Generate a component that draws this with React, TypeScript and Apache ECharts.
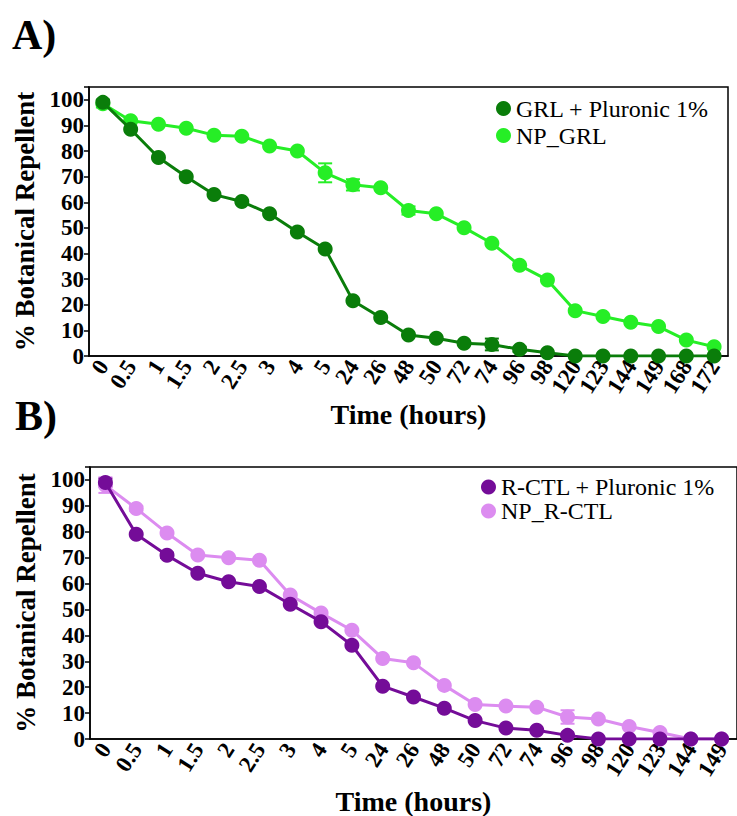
import React, { useEffect, useRef } from "react";
import * as echarts from "echarts";

const timeA = ["0", "0.5", "1", "1.5", "2", "2.5", "3", "4", "5", "24", "26", "48", "50", "72", "74", "96", "98", "120", "123", "144", "149", "168", "172"];
const grlPluronic = [99, 88.5, 77.5, 70, 63, 60.3, 55.5, 48.4, 41.8, 21.6, 15, 8.2, 6.9, 5, 4.5, 2.6, 1.3, 0, 0, 0, 0, 0, 0];
const grlPluronicErr = [1, 0, 0, 0, 0, 0, 0, 0, 0, 0, 0, 0, 0, 0, 2.3, 1, 0, 0, 0, 0, 0, 0, 0];
const npGrl = [98.5, 91.8, 90.5, 88.9, 86.2, 85.8, 82, 80, 71.5, 66.8, 65.7, 56.8, 55.5, 50.1, 44, 35.4, 29.7, 17.7, 15.4, 13.2, 11.5, 6.2, 3.6];
const npGrlErr = [1.5, 0, 0, 0, 0, 0, 0, 0, 3.7, 2.2, 0, 1.6, 0, 0, 0, 0, 0, 0, 0, 0, 0, 0, 0];

const timeB = ["0", "0.5", "1", "1.5", "2", "2.5", "3", "4", "5", "24", "26", "48", "50", "72", "74", "96", "98", "120", "123", "144", "149"];
const rctlPluronic = [99, 79, 70.9, 64, 60.7, 58.9, 52, 45.3, 36.2, 20.4, 16.2, 11.9, 7.1, 4.2, 3.4, 1.4, 0, 0, 0, 0, 0];
const rctlPluronicErr = [1.5, 0, 1, 0, 0, 0, 0, 0, 0, 0, 0, 0, 0, 0, 0, 0, 0, 0, 0, 0, 0];
const npRctl = [98, 89, 79.5, 71, 70, 69, 55.6, 48.6, 42, 31.1, 29.4, 20.7, 13.3, 12.7, 12.3, 8.5, 7.7, 4.8, 2.5, 0, 0];
const npRctlErr = [3, 1, 0, 0, 0, 0, 0, 0, 0, 0, 0, 0, 0, 0, 0, 2.6, 0, 0, 0, 0, 0];

const DARK_GREEN = "#0a7d0a";
const LIGHT_GREEN = "#26ee26";
const DARK_PURPLE = "#740c98";
const LIGHT_PURPLE = "#dc8cf0";
const SERIF = "Liberation Serif";

function errData(vals: number[], errs: number[]) {
  const out: number[][] = [];
  errs.forEach((e, i) => {
    if (e > 0) out.push([i, vals[i], e]);
  });
  return out;
}

function errSeries(name: string, vals: number[], errs: number[], color: string, gi: number) {
  return {
    type: "custom",
    name: name + "_err",
    xAxisIndex: gi,
    yAxisIndex: gi,
    silent: true,
    z: 1,
    data: errData(vals, errs),
    renderItem: (params: any, api: any) => {
      const i = api.value(0);
      const v = api.value(1);
      const e = api.value(2);
      const top = api.coord([i, v + e]);
      const bot = api.coord([i, Math.max(0, v - e)]);
      const hw = 7;
      const style = { stroke: color, lineWidth: 2 };
      return {
        type: "group",
        children: [
          { type: "line", shape: { x1: top[0], y1: top[1], x2: bot[0], y2: bot[1] }, style },
          { type: "line", shape: { x1: top[0] - hw, y1: top[1], x2: top[0] + hw, y2: top[1] }, style },
          { type: "line", shape: { x1: bot[0] - hw, y1: bot[1], x2: bot[0] + hw, y2: bot[1] }, style },
        ],
      };
    },
  };
}

function lineSeries(name: string, vals: number[], color: string, gi: number, z: number) {
  return {
    type: "line",
    name,
    xAxisIndex: gi,
    yAxisIndex: gi,
    data: vals,
    symbol: "circle",
    symbolSize: 15,
    z,
    lineStyle: { color, width: 3 },
    itemStyle: { color },
  };
}

function xAxisCfg(data: string[], gi: number) {
  return {
    type: "category",
    gridIndex: gi,
    data,
    boundaryGap: true,
    name: "Time (hours)",
    nameLocation: "middle",
    nameGap: gi === 0 ? 34 : 48,
    nameTextStyle: { fontFamily: SERIF, fontWeight: "bold", fontSize: 28, color: "#000" },
    axisLine: { lineStyle: { color: "#000", width: 1.5 } },
    axisTick: { alignWithLabel: true, length: 5, interval: 0, lineStyle: { color: "#000", width: 1.5 } },
    axisLabel: {
      interval: 0,
      rotate: 57,
      margin: 6,
      fontFamily: SERIF,
      fontWeight: "bold",
      fontSize: 23,
      color: "#000",
    },
    splitLine: { show: false },
  };
}

function yAxisCfg(gi: number) {
  return {
    type: "value",
    gridIndex: gi,
    min: 0,
    max: 105,
    interval: 10,
    name: "% Botanical Repellent",
    nameLocation: "middle",
    nameGap: 49,
    nameTextStyle: { fontFamily: SERIF, fontWeight: "bold", fontSize: 27, color: "#000" },
    axisLine: { show: true, lineStyle: { color: "#000", width: 1.5 } },
    axisTick: { show: true, length: 5, lineStyle: { color: "#000", width: 1.5 } },
    axisLabel: {
      margin: 5,
      fontFamily: SERIF,
      fontWeight: "bold",
      fontSize: 23,
      color: "#000",
      formatter: (v: number) => (v > 100 ? "" : String(v)),
    },
    splitLine: { show: false },
  };
}

export default function App() {
  const ref = useRef<HTMLDivElement>(null);
  useEffect(() => {
    if (!ref.current) return;
    const chart = echarts.init(ref.current, undefined, { renderer: "svg" });
    const option: any = {
      animation: false,
      backgroundColor: "#fff",
      textStyle: { fontFamily: SERIF },
      grid: [
        { left: 89, top: 87, right: 9, height: 269, show: true, borderColor: "#000", borderWidth: 1.5 },
        { left: 90, top: 467, right: -3, height: 273, show: true, borderColor: "#000", borderWidth: 1.5 },
      ],
      xAxis: [xAxisCfg(timeA, 0), xAxisCfg(timeB, 1)],
      yAxis: [yAxisCfg(0), yAxisCfg(1)],
      legend: [
        {
          data: ["GRL + Pluronic 1%", "NP_GRL"],
          orient: "vertical",
          left: 496,
          top: 95,
          padding: 0,
          itemGap: 0,
          itemWidth: 15,
          itemHeight: 15,
          icon: "circle",
          textStyle: { fontFamily: SERIF, fontSize: 24, color: "#000", lineHeight: 27 },
        },
        {
          data: ["R-CTL + Pluronic 1%", "NP_R-CTL"],
          orient: "vertical",
          left: 481,
          top: 475,
          padding: 0,
          itemGap: 0,
          itemWidth: 15,
          itemHeight: 15,
          icon: "circle",
          textStyle: { fontFamily: SERIF, fontSize: 24, color: "#000", lineHeight: 22 },
        },
      ],
      graphic: [
        {
          type: "text",
          left: 12,
          top: 14,
          style: { text: "A)", fontFamily: SERIF, fontSize: 42, fontWeight: "bold", fill: "#000" },
        },
        {
          type: "text",
          left: 15,
          top: 395,
          style: { text: "B)", fontFamily: SERIF, fontSize: 42, fontWeight: "bold", fill: "#000" },
        },
      ],
      series: [
        errSeries("NP_GRL", npGrl, npGrlErr, LIGHT_GREEN, 0),
        lineSeries("NP_GRL", npGrl, LIGHT_GREEN, 0, 2),
        errSeries("GRL + Pluronic 1%", grlPluronic, grlPluronicErr, DARK_GREEN, 0),
        lineSeries("GRL + Pluronic 1%", grlPluronic, DARK_GREEN, 0, 3),
        errSeries("NP_R-CTL", npRctl, npRctlErr, LIGHT_PURPLE, 1),
        lineSeries("NP_R-CTL", npRctl, LIGHT_PURPLE, 1, 2),
        errSeries("R-CTL + Pluronic 1%", rctlPluronic, rctlPluronicErr, DARK_PURPLE, 1),
        lineSeries("R-CTL + Pluronic 1%", rctlPluronic, DARK_PURPLE, 1, 3),
      ],
    };
    chart.setOption(option);
    return () => chart.dispose();
  }, []);
  return (
    <div
      ref={ref}
      style={{ position: "fixed", left: 0, top: 0, width: 737, height: 816, background: "#fff" }}
    />
  );
}
